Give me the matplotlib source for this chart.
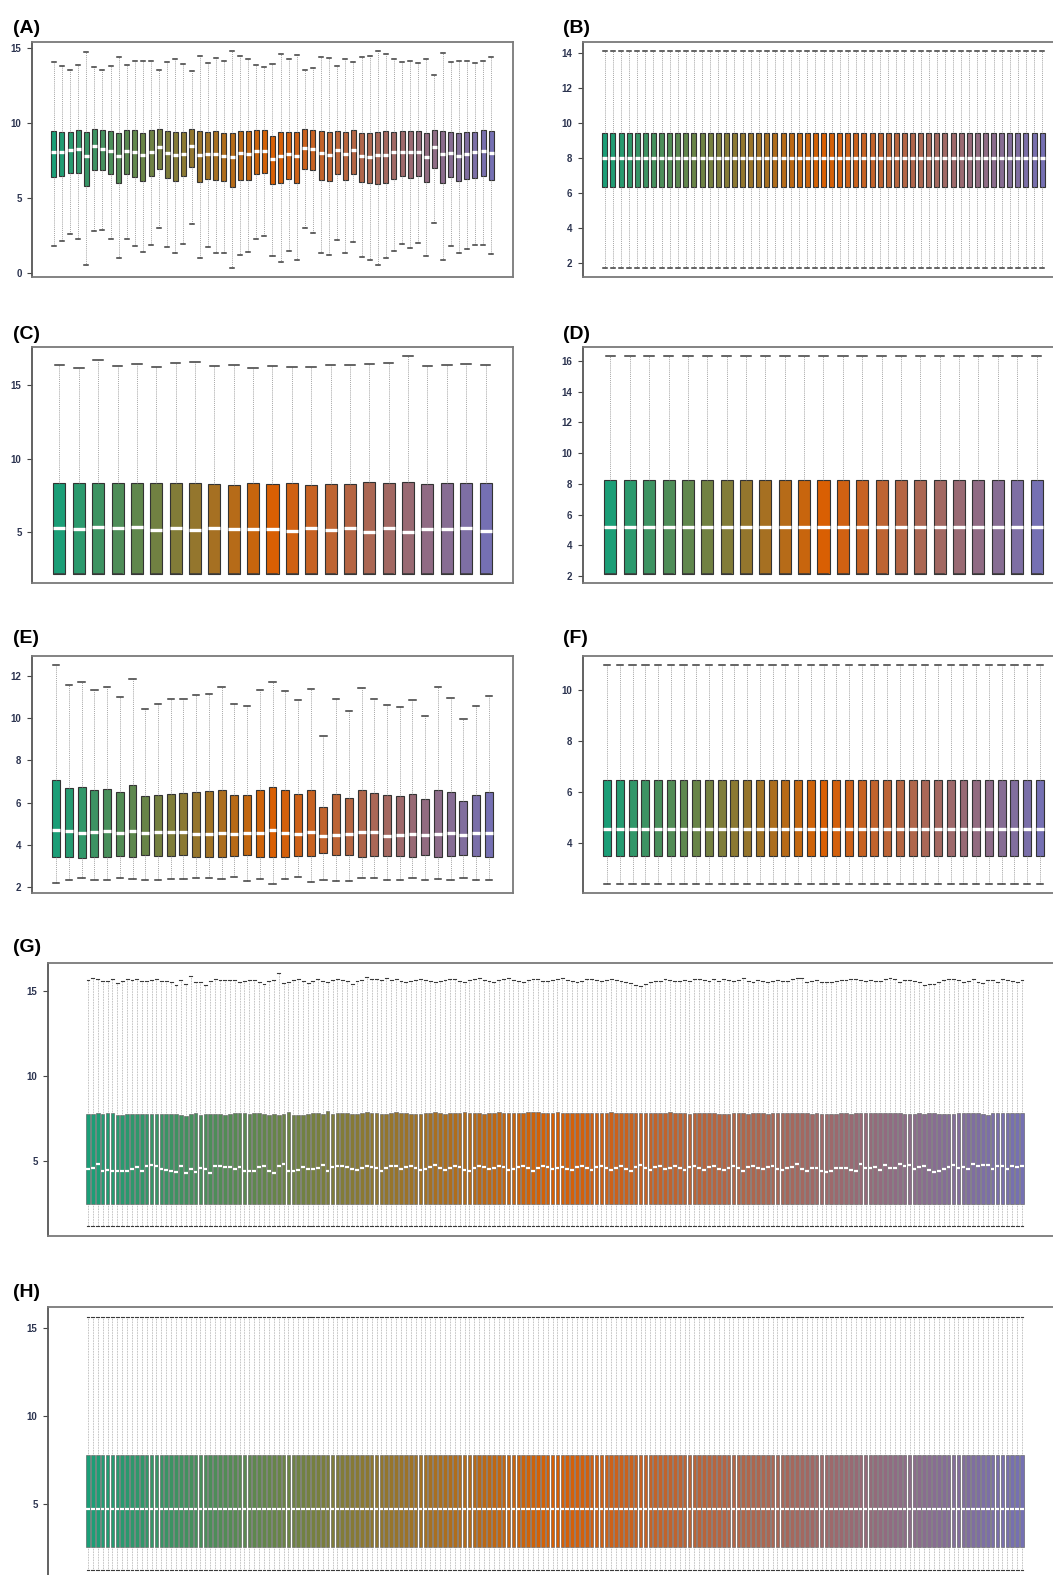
import numpy as np
import matplotlib.pyplot as plt
from matplotlib.colors import LinearSegmentedColormap

plt.rcParams['font.family'] = ['Liberation Sans', 'DejaVu Sans']

W, H = 1053, 1575

# ---------------- data ----------------
# (A) raw arrays, 55 samples
A_hi = [14.07, 13.85, 13.56, 13.92, 14.74, 13.74, 13.56, 13.80, 14.43, 13.89, 14.16, 14.14, 14.14, 13.54,
        14.07, 14.27, 13.96, 13.47, 14.51, 14.05, 14.38, 14.16, 14.85, 14.49, 14.27, 13.87, 13.78, 13.98,
        14.65, 14.29, 14.58, 13.58, 13.72, 14.40, 14.38, 13.83, 14.27, 14.07, 14.40, 14.47, 14.80, 14.65,
        14.27, 14.07, 14.14, 14.00, 14.27, 13.23, 14.67, 14.07, 14.14, 14.14, 14.00, 14.16, 14.40]
A_q3 = [9.48, 9.44, 9.44, 9.57, 9.40, 9.64, 9.57, 9.48, 9.37, 9.53, 9.53, 9.35, 9.53, 9.62, 9.46, 9.40,
        9.44, 9.64, 9.46, 9.42, 9.51, 9.33, 9.37, 9.51, 9.46, 9.53, 9.53, 9.13, 9.44, 9.44, 9.40, 9.59,
        9.57, 9.48, 9.44, 9.48, 9.44, 9.55, 9.37, 9.37, 9.44, 9.46, 9.44, 9.51, 9.48, 9.48, 9.35, 9.53,
        9.46, 9.44, 9.33, 9.44, 9.44, 9.55, 9.46]
A_med = [8.09, 8.09, 8.20, 8.26, 7.80, 8.49, 8.26, 8.15, 7.80, 8.15, 8.07, 7.87, 8.07, 8.40, 8.04, 7.89,
         7.98, 8.46, 7.91, 7.98, 7.95, 7.82, 7.78, 8.00, 7.95, 8.15, 8.15, 7.62, 7.84, 7.95, 7.84, 8.38,
         8.29, 8.00, 7.89, 8.20, 7.95, 8.22, 7.82, 7.78, 7.87, 7.87, 8.07, 8.11, 8.07, 8.09, 7.76, 8.40,
         7.93, 8.02, 7.82, 7.95, 8.07, 8.13, 8.02]
A_q1 = [6.40, 6.51, 6.69, 6.65, 5.83, 6.89, 6.85, 6.58, 5.98, 6.63, 6.43, 6.16, 6.47, 6.96, 6.36, 6.14,
        6.45, 7.07, 6.09, 6.25, 6.23, 6.12, 5.76, 6.20, 6.23, 6.63, 6.67, 5.92, 5.98, 6.27, 5.98, 6.94,
        6.87, 6.23, 6.12, 6.60, 6.23, 6.60, 6.05, 5.98, 5.92, 6.03, 6.25, 6.49, 6.36, 6.47, 6.07, 7.02,
        6.00, 6.43, 6.12, 6.27, 6.32, 6.45, 6.20]
A_lo = [1.82, 2.13, 2.59, 2.30, 0.51, 2.79, 2.86, 2.26, 1.02, 2.26, 1.77, 1.40, 1.84, 3.01, 1.73, 1.31,
        1.93, 3.24, 1.02, 1.73, 1.35, 1.31, 0.31, 1.22, 1.40, 2.26, 2.48, 1.13, 0.71, 1.48, 0.84, 2.97,
        2.66, 1.33, 1.20, 2.22, 1.35, 2.06, 1.06, 0.89, 0.55, 0.97, 1.44, 1.95, 1.68, 1.97, 1.15, 3.32,
        0.84, 1.82, 1.31, 1.60, 1.84, 1.84, 1.26]

# (B) normalised, every box identical
B_n = 55
B_lo, B_q1, B_med, B_q3, B_hi = 1.71, 6.33, 8.02, 9.46, 14.15

# (C) raw, 23 samples (lower whisker sits on the box)
C_hi = [16.38, 16.16, 16.68, 16.29, 16.41, 16.22, 16.50, 16.56, 16.29, 16.36, 16.18, 16.32,
        16.22, 16.20, 16.36, 16.36, 16.41, 16.50, 17.00, 16.27, 16.36, 16.47, 16.36]
C_q3 = [8.31, 8.31, 8.31, 8.31, 8.31, 8.31, 8.31, 8.36, 8.27, 8.22, 8.33, 8.29,
        8.31, 8.17, 8.24, 8.29, 8.38, 8.31, 8.38, 8.27, 8.31, 8.31, 8.31]
C_med = [5.29, 5.23, 5.32, 5.25, 5.36, 5.16, 5.27, 5.11, 5.27, 5.23, 5.18, 5.20,
         5.07, 5.27, 5.11, 5.25, 5.00, 5.27, 5.02, 5.23, 5.18, 5.25, 5.07]
C_q1 = [2.12] * 23

# (D) normalised
D_n = 23
D_lo, D_q1, D_med, D_q3, D_hi = 2.11, 2.11, 5.17, 8.25, 16.35

# (E) raw, 35 samples
E_hi = [12.52, 11.57, 11.70, 11.32, 11.46, 11.00, 11.86, 10.45, 10.67, 10.89, 10.88, 11.08,
        11.15, 11.48, 10.66, 10.56, 11.35, 11.70, 11.30, 10.85, 11.38, 9.14, 10.89, 10.35,
        11.40, 10.92, 10.64, 10.53, 10.85, 10.12, 11.46, 10.97, 9.96, 10.58, 11.03]
E_q3 = [7.06, 6.70, 6.72, 6.60, 6.65, 6.48, 6.81, 6.29, 6.37, 6.43, 6.45, 6.49,
        6.53, 6.62, 6.38, 6.34, 6.60, 6.73, 6.59, 6.41, 6.62, 5.80, 6.43, 6.22,
        6.60, 6.45, 6.34, 6.30, 6.41, 6.16, 6.62, 6.48, 6.08, 6.34, 6.48]
E_med = [4.72, 4.64, 4.55, 4.61, 4.66, 4.55, 4.67, 4.55, 4.59, 4.61, 4.63, 4.52,
         4.53, 4.55, 4.50, 4.56, 4.55, 4.69, 4.56, 4.50, 4.61, 4.42, 4.48, 4.50,
         4.59, 4.59, 4.44, 4.45, 4.50, 4.45, 4.52, 4.58, 4.47, 4.55, 4.55]
E_q1 = [3.41, 3.44, 3.39, 3.44, 3.44, 3.46, 3.44, 3.50, 3.49, 3.49, 3.50, 3.44,
        3.42, 3.41, 3.49, 3.52, 3.44, 3.44, 3.44, 3.46, 3.46, 3.63, 3.50, 3.52,
        3.42, 3.47, 3.46, 3.46, 3.44, 3.52, 3.41, 3.46, 3.50, 3.49, 3.44]
E_lo = [2.21, 2.36, 2.43, 2.36, 2.36, 2.44, 2.41, 2.36, 2.36, 2.41, 2.41, 2.43,
        2.44, 2.38, 2.47, 2.28, 2.38, 2.14, 2.41, 2.47, 2.25, 2.35, 2.28, 2.30,
        2.43, 2.44, 2.36, 2.33, 2.43, 2.36, 2.40, 2.36, 2.44, 2.35, 2.36]

# (F) normalised
F_n = 35
F_lo, F_q1, F_med, F_q3, F_hi = 2.39, 3.49, 4.55, 6.48, 10.98

# (G) raw, 192 samples
G_med = [4.55, 4.61, 4.84, 4.45, 4.51, 4.43, 4.45, 4.45, 4.45, 4.53, 4.67, 4.45, 4.73, 4.75, 4.73, 4.55,
         4.51, 4.45, 4.39, 4.69, 4.29, 4.55, 4.39, 4.61, 4.53, 4.33, 4.69, 4.69, 4.67, 4.65, 4.55, 4.63,
         4.41, 4.41, 4.41, 4.65, 4.73, 4.41, 4.31, 4.73, 4.82, 4.41, 4.41, 4.51, 4.63, 4.55, 4.55, 4.59,
         4.79, 4.45, 4.65, 4.69, 4.71, 4.65, 4.55, 4.49, 4.61, 4.73, 4.67, 4.57, 4.45, 4.61, 4.69, 4.73,
         4.53, 4.63, 4.71, 4.59, 4.47, 4.55, 4.67, 4.75, 4.61, 4.49, 4.57, 4.69, 4.63, 4.51, 4.45, 4.59,
         4.71, 4.65, 4.55, 4.61, 4.73, 4.67, 4.49, 4.53, 4.63, 4.69, 4.57, 4.45, 4.59, 4.71, 4.65, 4.53,
         4.61, 4.67, 4.55, 4.49, 4.63, 4.71, 4.59, 4.47, 4.65, 4.73, 4.57, 4.51, 4.61, 4.69, 4.55, 4.45,
         4.63, 4.75, 4.59, 4.49, 4.67, 4.71, 4.53, 4.61, 4.69, 4.57, 4.47, 4.63, 4.73, 4.59, 4.51, 4.65,
         4.71, 4.55, 4.49, 4.61, 4.69, 4.57, 4.45, 4.63, 4.73, 4.59, 4.53, 4.67, 4.71, 4.55, 4.49, 4.61,
         4.65, 4.81, 4.53, 4.45, 4.61, 4.61, 4.45, 4.39, 4.45, 4.57, 4.57, 4.57, 4.49, 4.41, 4.84, 4.59,
         4.59, 4.65, 4.49, 4.79, 4.59, 4.59, 4.81, 4.69, 4.79, 4.55, 4.65, 4.73, 4.51, 4.39, 4.43, 4.53,
         4.67, 4.75, 4.59, 4.65, 4.53, 4.81, 4.71, 4.75, 4.77, 4.53, 4.73, 4.73, 4.53, 4.73, 4.65, 4.73]
G_q3 = [7.75, 7.79, 7.83, 7.79, 7.81, 7.85, 7.72, 7.73, 7.79, 7.77, 7.79, 7.79, 7.79, 7.77, 7.79, 7.77,
        7.79, 7.79, 7.79, 7.71, 7.66, 7.75, 7.85, 7.71, 7.79, 7.79, 7.75, 7.77, 7.73, 7.77, 7.81, 7.85,
        7.83, 7.79, 7.81, 7.81, 7.77, 7.73, 7.75, 7.71, 7.79, 7.89, 7.73, 7.71, 7.71, 7.75, 7.81, 7.83,
        7.75, 7.93, 7.79, 7.81, 7.85, 7.83, 7.77, 7.79, 7.85, 7.87, 7.83, 7.81, 7.79, 7.75, 7.83, 7.87,
        7.85, 7.81, 7.79, 7.77, 7.75, 7.81, 7.85, 7.87, 7.83, 7.79, 7.81, 7.83, 7.85, 7.87, 7.85, 7.83,
        7.81, 7.79, 7.83, 7.85, 7.87, 7.85, 7.83, 7.81, 7.83, 7.85, 7.87, 7.89, 7.87, 7.85, 7.83, 7.85,
        7.87, 7.85, 7.83, 7.85, 7.83, 7.81, 7.83, 7.85, 7.83, 7.81, 7.85, 7.87, 7.85, 7.83, 7.81, 7.83,
        7.85, 7.83, 7.81, 7.83, 7.85, 7.83, 7.85, 7.87, 7.85, 7.83, 7.81, 7.79, 7.81, 7.83, 7.85, 7.83,
        7.81, 7.79, 7.77, 7.79, 7.81, 7.83, 7.81, 7.79, 7.81, 7.83, 7.81, 7.79, 7.81, 7.83, 7.85, 7.83,
        7.81, 7.85, 7.85, 7.83, 7.79, 7.81, 7.79, 7.77, 7.77, 7.79, 7.83, 7.81, 7.79, 7.83, 7.85, 7.85,
        7.81, 7.81, 7.81, 7.83, 7.83, 7.81, 7.81, 7.79, 7.77, 7.79, 7.81, 7.79, 7.81, 7.81, 7.79, 7.77,
        7.77, 7.79, 7.83, 7.81, 7.83, 7.85, 7.81, 7.79, 7.73, 7.81, 7.83, 7.81, 7.81, 7.83, 7.83, 7.85]
G_hi = [15.65, 15.73, 15.69, 15.59, 15.55, 15.69, 15.45, 15.59, 15.69, 15.61, 15.69, 15.59, 15.57, 15.61, 15.69, 15.55,
        15.59, 15.49, 15.37, 15.61, 15.41, 15.85, 15.53, 15.51, 15.37, 15.59, 15.71, 15.65, 15.65, 15.65, 15.61, 15.49,
        15.59, 15.65, 15.65, 15.49, 15.41, 15.55, 15.65, 16.04, 15.47, 15.53, 15.65, 15.71, 15.55, 15.47, 15.57, 15.69,
        15.57, 15.49, 15.61, 15.69, 15.65, 15.55, 15.39, 15.57, 15.65, 15.79, 15.69, 15.71, 15.63, 15.73, 15.61, 15.69,
        15.59, 15.49, 15.57, 15.65, 15.69, 15.61, 15.55, 15.49, 15.59, 15.65, 15.71, 15.67, 15.59, 15.53, 15.61, 15.69,
        15.73, 15.65, 15.57, 15.51, 15.61, 15.69, 15.75, 15.65, 15.59, 15.53, 15.63, 15.71, 15.67, 15.59, 15.55, 15.61,
        15.69, 15.75, 15.65, 15.57, 15.49, 15.59, 15.67, 15.71, 15.63, 15.55, 15.61, 15.69, 15.65, 15.59, 15.51, 15.45,
        15.37, 15.31, 15.41, 15.53, 15.59, 15.55, 15.69, 15.61, 15.57, 15.59, 15.63, 15.57, 15.67, 15.69, 15.65, 15.57,
        15.69, 15.59, 15.71, 15.61, 15.55, 15.63, 15.73, 15.59, 15.51, 15.61, 15.55, 15.49, 15.57, 15.65, 15.59, 15.55,
        15.69, 15.73, 15.73, 15.53, 15.59, 15.65, 15.51, 15.49, 15.51, 15.57, 15.61, 15.61, 15.69, 15.69, 15.65, 15.55,
        15.65, 15.59, 15.59, 15.67, 15.73, 15.67, 15.53, 15.61, 15.65, 15.59, 15.51, 15.33, 15.39, 15.41, 15.51, 15.65,
        15.71, 15.69, 15.65, 15.53, 15.59, 15.67, 15.53, 15.45, 15.63, 15.61, 15.49, 15.69, 15.65, 15.55, 15.53, 15.63]
G_q1 = 2.50
G_lo = 1.20

# (H) normalised
H_n = 192
H_lo, H_q1, H_med, H_q3, H_hi = 1.21, 2.50, 4.66, 7.80, 15.65

ramp = LinearSegmentedColormap.from_list('ramp', ['#1B9E77', '#D95F02', '#7570B3'])
fig = plt.figure(figsize=(W / 100, H / 100), dpi=100)


def as_list(v, n):
    return list(v) if np.ndim(v) else [v] * n


def panel(rect, label, lab_xy, lo, q1, med, q3, hi, yticks, n=None, wfrac=0.62, dense=False):
    x0, y0, x1, y1 = rect
    ax = fig.add_axes([x0 / W, 1 - y1 / H, (x1 - x0) / W, (y1 - y0) / H])
    if n is None:
        n = len(med)
    lo, q1, med, q3, hi = (as_list(v, n) for v in (lo, q1, med, q3, hi))
    stats = [dict(whislo=lo[i], q1=q1[i], med=med[i], q3=q3[i], whishi=hi[i], fliers=[])
             for i in range(n)]
    pos = np.arange(1, n + 1)
    bp = ax.bxp(stats, positions=pos, widths=wfrac, capwidths=wfrac * 0.8, patch_artist=True,
                showfliers=False,
                boxprops=dict(edgecolor='#555555' if dense else '#333333',
                              linewidth=0.4 if dense else 0.8),
                medianprops=dict(color='white', linewidth=1.6 if dense else 2.4, solid_capstyle='butt'),
                whiskerprops=dict(color='#8a8a8a', linewidth=0.5 if dense else 0.6, linestyle=(0, (1, 1.3))),
                capprops=dict(color='#3a3a3a', linewidth=0.8 if dense else 1.1))
    for patch, c in zip(bp['boxes'], ramp(np.linspace(0, 1, n))):
        patch.set_facecolor(c)

    # R style 4% padding
    ymin, ymax = min(lo), max(hi)
    pad = 0.04 * (ymax - ymin)
    ax.set_ylim(ymin - pad, ymax + pad)
    ax.set_xlim(0.5 - 0.04 * n, n + 0.5 + 0.04 * n)

    ax.set_xticks([])
    ax.set_yticks(yticks)
    ax.tick_params(axis='y', length=3.5, width=0.8, color='#444444', pad=4,
                   labelsize=7, labelcolor='#2c3450')
    for lab in ax.get_yticklabels():
        lab.set_fontweight('bold')
    for s in ax.spines.values():
        s.set_color('#7a7a7a')
        s.set_linewidth(1.3)
    ax.spines['left'].set_color('#555555')

    fig.text(lab_xy[0] / W, 1 - lab_xy[1] / H, label, fontsize=14, fontweight='bold',
             ha='left', va='baseline', color='black')
    return ax


panel((32, 42, 513, 277), '(A)', (13, 33), A_lo, A_q1, A_med, A_q3, A_hi, [0, 5, 10, 15])
panel((583, 42, 1064, 277), '(B)', (563, 33), B_lo, B_q1, B_med, B_q3, B_hi,
      [2, 4, 6, 8, 10, 12, 14], n=B_n)
panel((32, 347, 513, 583), '(C)', (13, 339), C_q1, C_q1, C_med, C_q3, C_hi, [5, 10, 15])
panel((583, 347, 1064, 583), '(D)', (563, 339), D_lo, D_q1, D_med, D_q3, D_hi,
      [2, 4, 6, 8, 10, 12, 14, 16], n=D_n)
panel((32, 656, 513, 893), '(E)', (13, 643), E_lo, E_q1, E_med, E_q3, E_hi, [2, 4, 6, 8, 10, 12])
panel((583, 656, 1064, 893), '(F)', (563, 643), F_lo, F_q1, F_med, F_q3, F_hi,
      [4, 6, 8, 10], n=F_n)
panel((48, 963, 1062, 1236), '(G)', (13, 952), G_lo, G_q1, G_med, G_q3, G_hi, [5, 10, 15],
      n=len(G_med), wfrac=0.74, dense=True)
panel((48, 1307, 1062, 1580), '(H)', (13, 1297), H_lo, H_q1, H_med, H_q3, H_hi, [5, 10, 15],
      n=H_n, wfrac=0.74, dense=True)

fig.savefig('out.png', dpi=100)
